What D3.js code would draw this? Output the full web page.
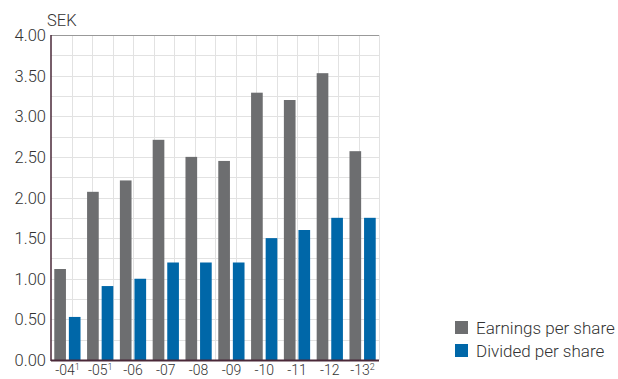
<!DOCTYPE html>
<html>
<head>
<meta charset="utf-8">
<script src="https://cdn.jsdelivr.net/npm/d3@7"></script>
<style>
  body { margin: 0; background: #fff; }
  svg text { font-family: Roboto, "Liberation Sans", sans-serif; font-weight: 300; fill: #333; }
</style>
</head>
<body>
<svg id="chart" width="618" height="379"></svg>
<script>
// years and their footnote marks
var years = ["-04", "-05", "-06", "-07", "-08", "-09", "-10", "-11", "-12", "-13"];
var notes = ["1", "1", "", "", "", "", "", "", "", "2"];
var earnings = [1.12, 2.07, 2.21, 2.71, 2.50, 2.45, 3.29, 3.20, 3.53, 2.57];
var dividend = [0.53, 0.91, 1.00, 1.20, 1.20, 1.20, 1.50, 1.60, 1.75, 1.75];
var seriesNames = ["Earnings per share", "Divided per share"];
var colors = ["#6d6e70", "#0067a8"];
var yTicks = [0, 0.5, 1, 1.5, 2, 2.5, 3, 3.5, 4];

var svg = d3.select("#chart");
var pLeft = 51, pRight = 379, pTop = 35, pBottom = 360;

var x = d3.scaleBand().domain(years).range([pLeft, pRight]).paddingInner(0.2).paddingOuter(0.1);
var x1 = d3.scaleBand().domain([0, 1]).range([0, x.bandwidth()]).paddingInner(0.2);
var y = d3.scaleLinear().domain([0, 4]).range([pBottom, pTop]);

// grid, 16 x 16 cells
var gx = d3.scaleLinear().domain([0, 16]).range([pLeft, pRight]);
svg.append("g").selectAll("line").data(d3.range(1, 17)).enter().append("line")
    .attr("x1", function (d) { return Math.round(gx(d)) + 0.5; })
    .attr("x2", function (d) { return Math.round(gx(d)) + 0.5; })
    .attr("y1", pTop).attr("y2", pBottom)
    .attr("stroke", "#e2e2e2").attr("stroke-width", 1);
svg.append("g").selectAll("line").data(d3.range(1, 16)).enter().append("line")
    .attr("x1", pLeft).attr("x2", pRight)
    .attr("y1", function (d) { return Math.round(y(d * 0.25)) + 0.5; })
    .attr("y2", function (d) { return Math.round(y(d * 0.25)) + 0.5; })
    .attr("stroke", "#e2e2e2").attr("stroke-width", 1);
// top border
svg.append("line").attr("x1", pLeft).attr("x2", pRight).attr("y1", pTop + 0.5).attr("y2", pTop + 0.5)
    .attr("stroke", "#999").attr("stroke-width", 1);

// bars
var groups = svg.append("g").selectAll("g").data(years).enter().append("g")
    .attr("transform", function (d) { return "translate(" + x(d) + ",0)"; });
groups.selectAll("rect")
    .data(function (d, i) { return [earnings[i], dividend[i]]; })
    .enter().append("rect")
    .attr("x", function (d, j) { return x1(j); })
    .attr("y", function (d) { return y(d); })
    .attr("width", x1.bandwidth())
    .attr("height", function (d) { return pBottom - y(d); })
    .attr("fill", function (d, j) { return colors[j]; });

// axes lines
svg.append("line").attr("x1", pLeft).attr("x2", pLeft).attr("y1", pTop).attr("y2", pBottom + 1)
    .attr("stroke", "#4a2838").attr("stroke-width", 1.5);
svg.append("line").attr("x1", pLeft).attr("x2", pRight).attr("y1", pBottom + 0.5).attr("y2", pBottom + 0.5)
    .attr("stroke", "#4a2838").attr("stroke-width", 2);

// y labels
svg.append("g").selectAll("text").data(yTicks).enter().append("text")
    .attr("x", pLeft - 5).attr("y", function (d) { return y(d) + 6; })
    .attr("text-anchor", "end").style("font-size", "16.5px")
    .text(function (d) { return d.toFixed(2); });
svg.append("text").attr("x", 47).attr("y", 26).style("font-size", "16.5px").text("SEK");

// x labels
var xl = svg.append("g").selectAll("text").data(years).enter().append("text")
    .attr("x", function (d) { return x(d) + x.bandwidth() / 2; })
    .attr("y", 375).attr("text-anchor", "middle").style("font-size", "14px");
xl.append("tspan").text(function (d) { return d; });
xl.append("tspan").attr("dy", -5).style("font-size", "9px")
    .text(function (d, i) { return notes[i]; });

// legend
var lg = svg.append("g").selectAll("g").data(seriesNames).enter().append("g")
    .attr("transform", function (d, i) { return "translate(455," + (321 + i * 23) + ")"; });
lg.append("rect").attr("width", 13).attr("height", 13).attr("fill", function (d, i) { return colors[i]; });
lg.append("text").attr("x", 21).attr("y", 12.5).style("font-size", "17px").text(function (d) { return d; });
</script>
</body>
</html>
